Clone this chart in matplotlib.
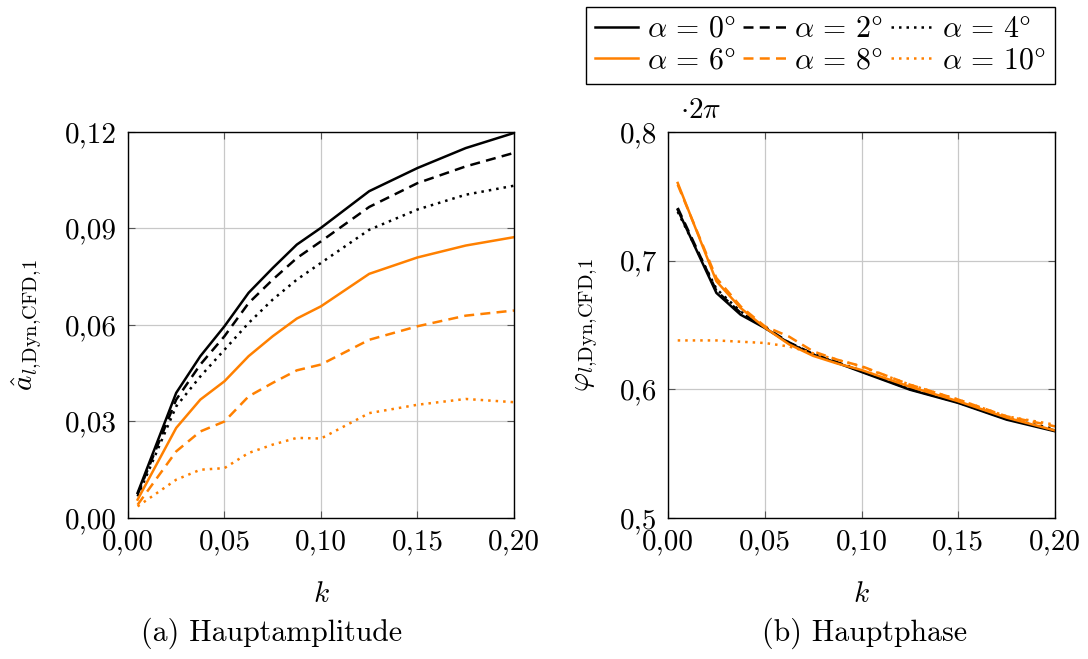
import matplotlib
matplotlib.use('Agg')
import matplotlib.pyplot as plt
from matplotlib.ticker import FuncFormatter

plt.rcParams['font.family'] = 'cmr10'
plt.rcParams['mathtext.fontset'] = 'cm'
plt.rcParams['axes.formatter.use_mathtext'] = True

# reduced frequency
k = [0.005, 0.025, 0.0375, 0.05, 0.0625, 0.075, 0.0875, 0.1, 0.125, 0.15, 0.175, 0.2]

# main amplitude
amp_a0 = [0.0078, 0.0389, 0.0503, 0.0596, 0.0700, 0.0777, 0.0850, 0.0902, 0.1016, 0.1088, 0.1150, 0.1197]
amp_a2 = [0.0073, 0.0368, 0.0477, 0.0565, 0.0668, 0.0741, 0.0808, 0.0860, 0.0967, 0.1041, 0.1093, 0.1135]
amp_a4 = [0.0067, 0.0347, 0.0440, 0.0523, 0.0606, 0.0679, 0.0741, 0.0793, 0.0896, 0.0959, 0.1005, 0.1033]
amp_a6 = [0.0057, 0.0280, 0.0368, 0.0425, 0.0503, 0.0565, 0.0620, 0.0658, 0.0759, 0.0810, 0.0847, 0.0873]
amp_a8 = [0.0041, 0.0207, 0.0269, 0.0300, 0.0378, 0.0420, 0.0459, 0.0477, 0.0554, 0.0596, 0.0629, 0.0645]
amp_a10 = [0.0036, 0.0119, 0.0150, 0.0155, 0.0202, 0.0228, 0.0249, 0.0247, 0.0326, 0.0352, 0.0370, 0.0360]

# main phase (in units of 2*pi)
ph_a0 = [0.7396, 0.6749, 0.6580, 0.6477, 0.6360, 0.6270, 0.6205, 0.6135, 0.5997, 0.5894, 0.5764, 0.5674]
ph_a2 = [0.7410, 0.6765, 0.6595, 0.6485, 0.6365, 0.6275, 0.6210, 0.6140, 0.6002, 0.5898, 0.5770, 0.5680]
ph_a4 = [0.7380, 0.6780, 0.6605, 0.6480, 0.6362, 0.6272, 0.6208, 0.6145, 0.6005, 0.5900, 0.5775, 0.5690]
ph_a6 = [0.7604, 0.6840, 0.6632, 0.6480, 0.6350, 0.6260, 0.6200, 0.6150, 0.6020, 0.5907, 0.5780, 0.5680]
ph_a8 = [0.7590, 0.6865, 0.6645, 0.6490, 0.6410, 0.6295, 0.6230, 0.6180, 0.6036, 0.5920, 0.5790, 0.5712]
ph_a10 = [0.6380, 0.6380, 0.6370, 0.6360, 0.6333, 0.6280, 0.6230, 0.6176, 0.6036, 0.5920, 0.5790, 0.5725]

angles = [0, 2, 4, 6, 8, 10]
colors = ['black', 'black', 'black', '#ff8000', '#ff8000', '#ff8000']
styles = ['-', (0, (4, 2.5)), (0, (1, 2)), '-', (0, (4, 2.5)), (0, (1, 2))]

amps = [amp_a0, amp_a2, amp_a4, amp_a6, amp_a8, amp_a10]
phases = [ph_a0, ph_a2, ph_a4, ph_a6, ph_a8, ph_a10]

fig = plt.figure(figsize=(10.88, 6.59), dpi=100)
ax1 = fig.add_axes([0.1176, 0.214, 0.3548, 0.5857])
ax2 = fig.add_axes([0.614, 0.214, 0.3557, 0.5857])

comma = FuncFormatter(lambda v, p: ('%.2f' % v).replace('.', ','))
comma1 = FuncFormatter(lambda v, p: ('%.1f' % v).replace('.', ','))

handles = []
for i in range(6):
    h, = ax1.plot(k, amps[i], color=colors[i], linestyle=styles[i], lw=1.8)
    ax2.plot(k, phases[i], color=colors[i], linestyle=styles[i], lw=1.8)
    handles.append(h)

for ax in (ax1, ax2):
    ax.set_xlim(0, 0.2)
    ax.set_xticks([0, 0.05, 0.1, 0.15, 0.2])
    ax.xaxis.set_major_formatter(comma)
    ax.grid(True, color='#c8c8c8', lw=0.9)
    ax.tick_params(direction='in', top=True, right=True, labelsize=21,
                   length=5, color='#555555', pad=8)
    ax.set_xlabel('$k$', fontsize=21)
    ax.xaxis.set_label_coords(0.5, -0.165)
    for s in ax.spines.values():
        s.set_linewidth(1.0)

ax1.set_ylim(0, 0.12)
ax1.set_yticks([0, 0.03, 0.06, 0.09, 0.12])
ax1.yaxis.set_major_formatter(comma)
ax1.set_ylabel(r'$\hat{a}_{l{,}\mathrm{Dyn}{,}\mathrm{CFD}{,}1}$', fontsize=21)
ax1.yaxis.set_label_coords(-0.22, 0.5)

ax2.set_ylim(0.5, 0.8)
ax2.set_yticks([0.5, 0.6, 0.7, 0.8])
ax2.yaxis.set_major_formatter(comma1)
ax2.set_ylabel(r'$\varphi_{l{,}\mathrm{Dyn}{,}\mathrm{CFD}{,}1}$', fontsize=21)
ax2.yaxis.set_label_coords(-0.176, 0.5)
ax2.text(0.03, 1.02, r'$\cdot 2\pi$', transform=ax2.transAxes, fontsize=21,
         ha='left', va='bottom')

fig.text(0.2495, 0.0395, '(a) Hauptamplitude', fontsize=21.5, ha='center', va='center')
fig.text(0.7945, 0.0395, '(b) Hauptphase', fontsize=21.5, ha='center', va='center')

# legend rows: 0,2,4 then 6,8,10 (matplotlib fills column-wise)
order = [0, 3, 1, 4, 2, 5]
labels = [r'$\alpha\,=\,%d\degree$' % a for a in angles]
fig.legend([handles[i] for i in order], [labels[i] for i in order], ncol=3,
           loc='upper right', bbox_to_anchor=(0.9695, 0.99), fontsize=21.5,
           frameon=True, fancybox=False, edgecolor='black', handlelength=1.45,
           handletextpad=0.28, columnspacing=0.25, labelspacing=0.15,
           borderpad=0.3, borderaxespad=0, framealpha=1)

fig.savefig('out.png', dpi=100)
